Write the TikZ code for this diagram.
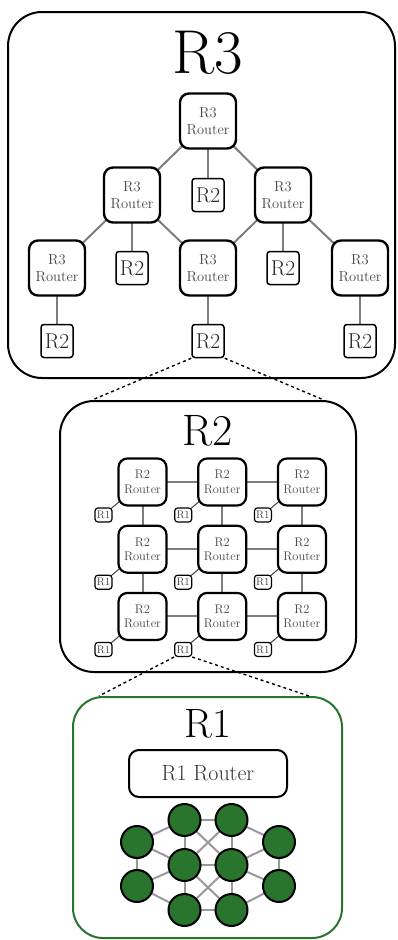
\documentclass[tikz,border=0pt]{standalone}
\usepackage{tikz}
\usetikzlibrary{positioning, backgrounds, calc}
\definecolor{nngreen}{RGB}{42,117,46}
\definecolor{linkgray}{RGB}{125,125,125}

\begin{document}
\begin{tikzpicture}[
    x=1pt, y=-1pt,
    bigbox/.style={draw, line width=2pt, rounded corners=34pt, inner sep=0pt},
    title/.style={anchor=base, inner sep=0pt},
    rthree/.style={draw, fill=white, line width=2.4pt, rounded corners=9pt, minimum width=56pt, minimum height=55pt, inner sep=0pt, align=center, text=black!72, font=\fontsize{14.5}{17.5}\selectfont},
    rtwoleaf/.style={draw, fill=white, line width=1.5pt, rounded corners=3pt, minimum width=32pt, minimum height=33pt, inner sep=0pt, text=black!85, font=\fontsize{21.5}{21.5}\selectfont},
    rtwo/.style={draw, fill=white, line width=2.2pt, rounded corners=9pt, minimum width=48pt, minimum height=47pt, inner sep=0pt, align=center, text=black!72, font=\fontsize{12.5}{14.5}\selectfont},
    roneleaf/.style={draw, fill=white, line width=1.2pt, rounded corners=3pt, minimum width=17pt, minimum height=14pt, inner sep=0pt, text=black!75, font=\fontsize{11}{11}\selectfont},
    neuron/.style={circle, draw, fill=nngreen, line width=2pt, minimum size=32pt, inner sep=0pt},
    link/.style={linkgray, line width=2pt},
    leaflink/.style={black!75, line width=1pt},
    zoomline/.style={dashed, line width=1.4pt},
]
    \useasboundingbox (0,0) rectangle (398,940);

    % R3 level
    \node[bigbox, minimum width=387pt, minimum height=366pt] (r3box) at (201.5,195) {};
    \node[title, font=\fontsize{62}{62}\selectfont] (r3title) at (208,73) {R3};

    \node[rthree] (top) at (208,121) {R3\\Router};
    \node[rthree] (midl) at (132,195) {R3\\Router};
    \node[rthree] (midr) at (283,195) {R3\\Router};
    \node[rthree] (botl) at (57,268) {R3\\Router};
    \node[rthree] (botm) at (208,268) {R3\\Router};
    \node[rthree] (botr) at (360,268) {R3\\Router};

    \node[rtwoleaf] (leaft) at (208,195) {R2};
    \node[rtwoleaf] (leafl) at (132,268) {R2};
    \node[rtwoleaf] (leafr) at (283,268) {R2};
    \node[rtwoleaf] (leafbl) at (57,341) {R2};
    \node[rtwoleaf] (leafbm) at (208,341) {R2};
    \node[rtwoleaf] (leafbr) at (360,341) {R2};

    \begin{scope}[on background layer]
        \draw[link] (top.center) -- (midl.center);
        \draw[link] (top.center) -- (midr.center);
        \draw[link] (top.center) -- (leaft.center);
        \draw[link] (midl.center) -- (botl.center);
        \draw[link] (midl.center) -- (leafl.center);
        \draw[link] (midl.center) -- (botm.center);
        \draw[link] (midr.center) -- (botm.center);
        \draw[link] (midr.center) -- (leafr.center);
        \draw[link] (midr.center) -- (botr.center);
        \draw[link] (botl.center) -- (leafbl.center);
        \draw[link] (botm.center) -- (leafbm.center);
        \draw[link] (botr.center) -- (leafbr.center);
    \end{scope}

    % R2 level
    \node[bigbox, minimum width=296pt, minimum height=271pt] (r2box) at (208,536.5) {};
    \node[title, font=\fontsize{44}{44}\selectfont] (r2title) at (208,445) {R2};

    \node[rtwo] (g11) at (142.5,482) {R2\\Router};
    \node[rtwo, right=29.5pt of g11] (g12) {R2\\Router};
    \node[rtwo, right=29.5pt of g12] (g13) {R2\\Router};
    \node[rtwo, below=18pt of g11] (g21) {R2\\Router};
    \node[rtwo, right=29.5pt of g21] (g22) {R2\\Router};
    \node[rtwo, right=29.5pt of g22] (g23) {R2\\Router};
    \node[rtwo, below=18pt of g21] (g31) {R2\\Router};
    \node[rtwo, right=29.5pt of g31] (g32) {R2\\Router};
    \node[rtwo, right=29.5pt of g32] (g33) {R2\\Router};

    \node[roneleaf] (l11) at ([shift={(-39,33)}]g11) {R1};
    \node[roneleaf] (l12) at ([shift={(-39,33)}]g12) {R1};
    \node[roneleaf] (l13) at ([shift={(-39,33)}]g13) {R1};
    \node[roneleaf] (l21) at ([shift={(-39,33)}]g21) {R1};
    \node[roneleaf] (l22) at ([shift={(-39,33)}]g22) {R1};
    \node[roneleaf] (l23) at ([shift={(-39,33)}]g23) {R1};
    \node[roneleaf] (l31) at ([shift={(-39,33)}]g31) {R1};
    \node[roneleaf] (l32) at ([shift={(-39,33)}]g32) {R1};
    \node[roneleaf] (l33) at ([shift={(-39,33)}]g33) {R1};

    \begin{scope}[on background layer]
        \draw[link] (g11.center) -- (g12.center) -- (g13.center);
        \draw[link] (g21.center) -- (g22.center) -- (g23.center);
        \draw[link] (g31.center) -- (g32.center) -- (g33.center);
        \draw[link] (g11.center) -- (g21.center) -- (g31.center);
        \draw[link] (g12.center) -- (g22.center) -- (g32.center);
        \draw[link] (g13.center) -- (g23.center) -- (g33.center);
        \draw[leaflink] (l11.center) -- (g11.center);
        \draw[leaflink] (l12.center) -- (g12.center);
        \draw[leaflink] (l13.center) -- (g13.center);
        \draw[leaflink] (l21.center) -- (g21.center);
        \draw[leaflink] (l22.center) -- (g22.center);
        \draw[leaflink] (l23.center) -- (g23.center);
        \draw[leaflink] (l31.center) -- (g31.center);
        \draw[leaflink] (l32.center) -- (g32.center);
        \draw[leaflink] (l33.center) -- (g33.center);
    \end{scope}

    \draw[zoomline] (leafbm.south west) -- ($(r2box.north west)+(33,0)$);
    \draw[zoomline] (leafbm.south east) -- ($(r2box.north east)+(-33,0)$);

    % R1 level
    \node[bigbox, draw=nngreen, rounded corners=30pt, minimum width=269pt, minimum height=241pt] (r1box) at (207.5,817.5) {};
    \node[title, font=\fontsize{41}{41}\selectfont] (r1title) at (208,737) {R1};
    \node[draw, line width=2pt, rounded corners=10pt, minimum width=158pt, minimum height=47pt, text=black!80, font=\fontsize{22}{22}\selectfont] (r1router) at (208,773.5) {R1 Router};

    \node[neuron] (n11) at (137,842) {};
    \node[neuron] (n12) at (137,886) {};
    \node[neuron] (n21) at (184.5,820) {};
    \node[neuron] (n22) at (184.5,865) {};
    \node[neuron] (n23) at (184.5,910) {};
    \node[neuron] (n31) at (231.5,820) {};
    \node[neuron] (n32) at (231.5,865) {};
    \node[neuron] (n33) at (231.5,910) {};
    \node[neuron] (n41) at (279,842) {};
    \node[neuron] (n42) at (279,886) {};

    \begin{scope}[on background layer, link/.append style={black!40}]
        \draw[link] (n11.center) -- (n12.center);
        \draw[link] (n21.center) -- (n22.center) -- (n23.center);
        \draw[link] (n31.center) -- (n32.center) -- (n33.center);
        \draw[link] (n41.center) -- (n42.center);
        \draw[link] (n11.center) -- (n21.center);
        \draw[link] (n11.center) -- (n22.center);
        \draw[link] (n12.center) -- (n22.center);
        \draw[link] (n12.center) -- (n23.center);
        \draw[link] (n21.center) -- (n31.center);
        \draw[link] (n22.center) -- (n32.center);
        \draw[link] (n23.center) -- (n33.center);
        \draw[link] (n21.center) -- (n32.center);
        \draw[link] (n22.center) -- (n31.center);
        \draw[link] (n22.center) -- (n33.center);
        \draw[link] (n23.center) -- (n32.center);
        \draw[link] (n31.center) -- (n41.center);
        \draw[link] (n32.center) -- (n41.center);
        \draw[link] (n32.center) -- (n42.center);
        \draw[link] (n33.center) -- (n42.center);
    \end{scope}

    \draw[zoomline] (l32.south west) -- ($(r1box.north west)+(27,0)$);
    \draw[zoomline] (l32.south east) -- ($(r1box.north east)+(-34,0)$);
\end{tikzpicture}
\end{document}
